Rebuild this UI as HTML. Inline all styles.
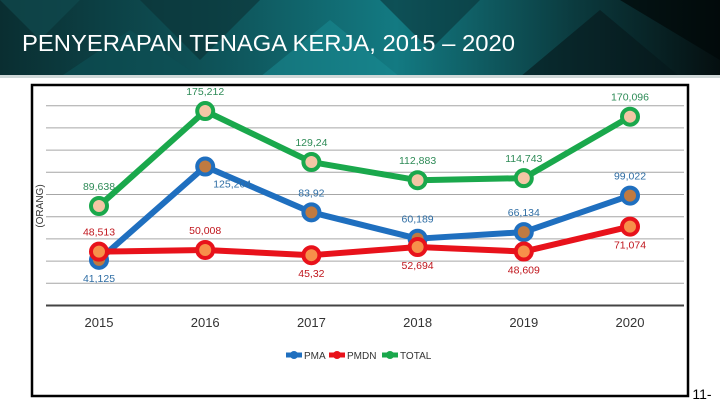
<!DOCTYPE html>
<html><head><meta charset="utf-8"><style>
html,body{margin:0;padding:0;background:#fff;}
body{width:720px;height:405px;overflow:hidden;position:relative;font-family:"Liberation Sans",sans-serif;}
</style></head><body>
<svg width="720" height="405" viewBox="0 0 720 405" xmlns="http://www.w3.org/2000/svg">
<defs>
<linearGradient id="hg" x1="0" y1="0" x2="1" y2="0">
<stop offset="0" stop-color="#0a2e31"/><stop offset="0.35" stop-color="#0f5a60"/><stop offset="0.55" stop-color="#137a82"/><stop offset="0.8" stop-color="#0b3a3e"/><stop offset="1" stop-color="#050f10"/>
</linearGradient>
</defs>
<g>
<rect x="0" y="0" width="720" height="77" fill="url(#hg)"/>
<polygon points="0,0 80,0 40,40" fill="#0f4a4e" opacity="0.7"/>
<polygon points="140,0 260,0 200,60" fill="#0b3033" opacity="0.6"/>
<polygon points="260,77 330,20 400,77" fill="#1a8d95" opacity="0.5"/>
<polygon points="380,0 480,0 430,50" fill="#0a3438" opacity="0.6"/>
<polygon points="520,77 600,10 680,77" fill="#06181a" opacity="0.6"/>
<polygon points="620,0 720,0 720,60" fill="#020808" opacity="0.7"/>
<polygon points="60,77 130,30 200,77" fill="#0d5157" opacity="0.6"/>
<rect x="0" y="75" width="720" height="3" fill="#cfd8d8"/>
<text x="22" y="51" font-size="23" fill="#ffffff" textLength="493" lengthAdjust="spacingAndGlyphs">PENYERAPAN TENAGA KERJA, 2015 – 2020</text>
</g>
<rect x="32" y="85" width="656" height="311" fill="#fff" stroke="#000" stroke-width="2.5"/>
<text x="702" y="399" font-size="14" fill="#000" text-anchor="middle">11-</text>
<text transform="translate(43,206) rotate(-90)" font-size="10" fill="#333" text-anchor="middle">(ORANG)</text>
<g id="grid"></g>
<g id="lines"></g>
<g id="labels"></g>
<g>
<g><line x1="286" y1="355" x2="302" y2="355" stroke="#1f6fbf" stroke-width="5"/><circle cx="294" cy="355" r="4" fill="#1f6fbf"/><text x="304" y="359" font-size="10" fill="#333">PMA</text></g>
<g><line x1="329" y1="355" x2="345" y2="355" stroke="#e8121b" stroke-width="5"/><circle cx="337" cy="355" r="4" fill="#e8121b"/><text x="347" y="359" font-size="10" fill="#333">PMDN</text></g>
<g><line x1="382" y1="355" x2="398" y2="355" stroke="#1aa84c" stroke-width="5"/><circle cx="390" cy="355" r="4" fill="#1aa84c"/><text x="400" y="359" font-size="10" fill="#333">TOTAL</text></g>
</g>
</svg>
<script>
const categories = ["2015","2016","2017","2018","2019","2020"];
const pmaValues = [41.125,125.204,83.92,60.189,66.134,99.022];
const pmdnValues = [48.513,50.008,45.32,52.694,48.609,71.074];
const totalValues = [89.638,175.212,129.24,112.883,114.743,170.096];
const pmaLabels = ["41,125","125,204","83,92","60,189","66,134","99,022"];
const pmdnLabels = ["48,513","50,008","45,32","52,694","48,609","71,074"];
const totalLabels = ["89,638","175,212","129,24","112,883","114,743","170,096"];
const pmaPlace = ["below","right","above","above","above","above"];
const pmdnPlace = ["above","above","below","below","below","below"];
const totalPlace = ["above","above","above","above","above","above"];
const gridValues = [20,40,60,80,100,120,140,160,180];

const NS="http://www.w3.org/2000/svg";
function xScale(i){return 99+i*106.2;}
function yScale(v){return 305.5-v*1.11;}
function mk(tag,attrs,parent){const e=document.createElementNS(NS,tag);for(const k in attrs)e.setAttribute(k,attrs[k]);parent.appendChild(e);return e;}
const grid=document.getElementById('grid'),lines=document.getElementById('lines'),labels=document.getElementById('labels');
gridValues.forEach(v=>{
  const l=mk('line',{x1:46,x2:684,y1:yScale(v),y2:yScale(v),stroke:'#a6a6a6','stroke-width':1},grid);
  
  
});
const ax=mk('line',{x1:46,x2:684,y1:yScale(0),y2:yScale(0),stroke:'#444','stroke-width':2},grid);


categories.forEach((c,i)=>{
  const t=mk('text',{x:xScale(i),y:327,'font-size':13,fill:'#333','text-anchor':'middle'},grid);
  t.textContent=c;
  
  
});
function series(name,vals,labs,place,col,fill,lc){
  const pts=vals.map((v,i)=>xScale(i)+','+yScale(v)).join(' ');
  const pl=mk('polyline',{points:pts,fill:'none',stroke:col,'stroke-width':6,'stroke-linejoin':'round'},lines);
  
  
  vals.forEach((v,i)=>{
    const c=mk('circle',{cx:xScale(i),cy:yScale(v),r:8,fill:fill,stroke:col,'stroke-width':4},lines);
    
    
    let x=xScale(i),y=yScale(v);
    if(place[i]==='above'){y-=16;}else if(place[i]==='below'){y+=22;}else{x+=27;y+=21;}
    const t=mk('text',{x:x,y:y,'font-size':10.5,fill:lc,'text-anchor':'middle'},labels);
    t.textContent=labs[i];
    
    
  });
}
series('total',totalValues,totalLabels,totalPlace,'#1aa84c','#f4c6a5','#2e8b57');
series('pma',pmaValues,pmaLabels,pmaPlace,'#1f6fbf','#c07a40','#2e6da4');
series('pmdn',pmdnValues,pmdnLabels,pmdnPlace,'#e8121b','#f7904a','#c0161d');
</script>
</body></html>
